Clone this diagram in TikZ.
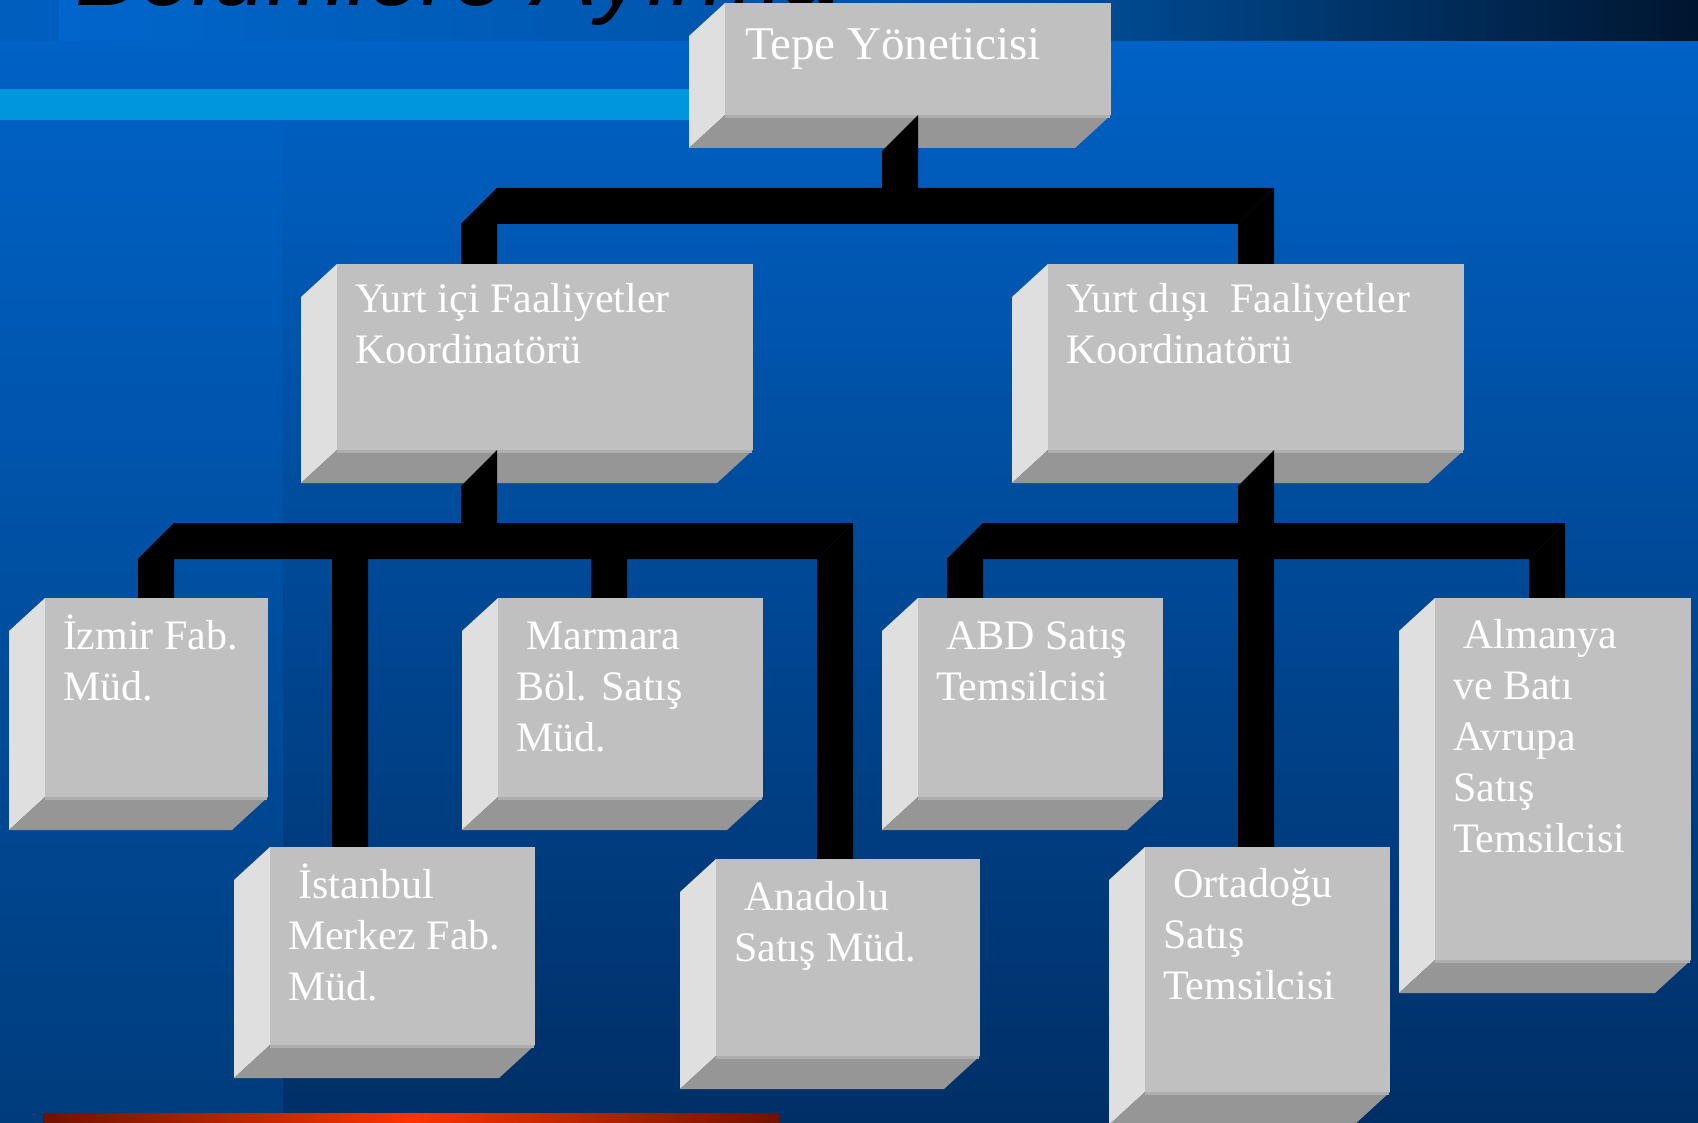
\documentclass[tikz,border=0pt]{standalone}
\usepackage{fontspec}
\setmainfont{Liberation Serif}
\newfontfamily\ttlfont{Liberation Sans}
\usetikzlibrary{calc}

\definecolor{facefront}{HTML}{C0C0C0}
\definecolor{faceside}{HTML}{DFDFDF}
\definecolor{facebottom}{HTML}{969696}
\definecolor{faceline}{HTML}{AEAEAE}
\definecolor{bgtop}{HTML}{0062C6}
\definecolor{bgbottom}{HTML}{002F66}
\definecolor{striptop}{HTML}{0060C2}
\definecolor{stripbottom}{HTML}{003C7C}
\definecolor{cyanbar}{HTML}{0096DE}
\definecolor{redlo}{HTML}{6E1200}
\definecolor{redhi}{HTML}{FF3300}
\definecolor{bandA}{HTML}{0066CC}
\definecolor{bandB}{HTML}{0056AC}
\definecolor{bandC}{HTML}{004A92}
\definecolor{bandD}{HTML}{00152F}
\definecolor{bandE}{HTML}{005EBF}

\pgfdeclarelayer{bg}
\pgfdeclarelayer{bevel}
\pgfdeclarelayer{conn}
\pgfsetlayers{bg,bevel,conn,main}

\newcommand\boxbevel[1]{%
  \fill[faceside] (#1.north west) -- (#1.south west) -- ++(-36,33) -- ($(#1.north west)+(-36,33)$) -- cycle;
  \fill[facebottom] (#1.south west) -- (#1.south east) -- ++(-36,33) -- ($(#1.south west)+(-36,33)$) -- cycle;
  \draw[faceline, line width=3pt] ($(#1.south west)+(0,1.5)$) -- ($(#1.south east)+(-1.5,1.5)$);
}
\newcommand\connseg[2]{%
  \fill[black] (#1) -- (#2) -- ($(#2)+(-36,36)$) -- ($(#1)+(-36,36)$) -- cycle;
}

\begin{document}
\begin{tikzpicture}[x=1pt,y=-1pt,
  box/.style={rectangle, fill=facefront, draw=none, inner sep=0pt, outer sep=0pt, anchor=north west},
  lbl/.style={text=white, inner sep=0pt, outer sep=0pt, anchor=base west, font=\fontsize{42}{51}\selectfont},
  toplbl/.style={lbl, font=\fontsize{47}{56}\selectfont},
  ttl/.style={inner sep=0pt, outer sep=0pt, anchor=base west, font=\ttlfont\itshape\fontsize{96}{110}\selectfont}
]
\useasboundingbox (0,0) rectangle (1698,1123);

% ---------- background ----------
\begin{pgfonlayer}{bg}
  \shade[top color=bgtop, bottom color=bgbottom] (0,41) rectangle (1698,1123);
  \shade[top color=striptop, bottom color=stripbottom] (0,120) rectangle (283,1123);
  \fill[bandE] (0,0) rectangle (59,41);
  \shade[left color=bandA, right color=bandB] (59,0) rectangle (720,41);
  \shade[left color=bandB, right color=bandC] (720,0) rectangle (1111,41);
  \shade[left color=bandC, right color=bandD] (1111,0) rectangle (1698,41);
  \fill[cyanbar] (0,89) rectangle (700,120);
  \shade[left color=redlo, right color=redhi] (43,1113) rectangle (411.5,1123);
  \shade[left color=redhi, right color=redlo] (411,1113) rectangle (779,1123);
  \begin{scope}
    \clip (0,0) rectangle (1698,41);
    \node[ttl, text=black] (title) at (75,6) {Bölümlere Ayırma};
  \end{scope}
\end{pgfonlayer}

% ---------- boxes (front faces) ----------
\node[box, minimum width=386pt, minimum height=112pt] (tepe)  at (725,3) {};
\node[box, minimum width=416pt, minimum height=186pt] (yici)  at (337,264) {};
\node[box, minimum width=416pt, minimum height=186pt] (ydis)  at (1048,264) {};
\node[box, minimum width=223pt, minimum height=199pt] (izmir) at (45,598) {};
\node[box, minimum width=265pt, minimum height=199pt] (mar)   at (498,598) {};
\node[box, minimum width=245pt, minimum height=199pt] (abd)   at (918,598) {};
\node[box, minimum width=256pt, minimum height=362pt] (alm)   at (1435,598) {};
\node[box, minimum width=265pt, minimum height=198pt] (ist)   at (270,847) {};
\node[box, minimum width=264pt, minimum height=197pt] (ana)   at (716,859) {};
\node[box, minimum width=245pt, minimum height=245pt] (ort)   at (1145,847) {};

% ---------- labels ----------
\node[toplbl] (tepe-t) at (745,60) {Tepe Yöneticisi};
\node[lbl] (yici-t) at (355,313) {\begin{tabular}[t]{@{}l@{}}Yurt içi Faaliyetler\\Koordinatörü\end{tabular}};
\node[lbl] (ydis-t) at (1066,313) {\begin{tabular}[t]{@{}l@{}}Yurt dışı\ \ Faaliyetler\\Koordinatörü\end{tabular}};
\node[lbl] (izmir-t) at (63,649) {\begin{tabular}[t]{@{}l@{}}İzmir Fab.\\Müd.\end{tabular}};
\node[lbl] (mar-t) at (516,649) {\begin{tabular}[t]{@{}l@{}}\ Marmara\\Böl. Satış\\Müd.\end{tabular}};
\node[lbl] (abd-t) at (936,649) {\begin{tabular}[t]{@{}l@{}}\ ABD Satış\\Temsilcisi\end{tabular}};
\node[lbl] (alm-t) at (1453,648) {\begin{tabular}[t]{@{}l@{}}\ Almanya\\ve Batı\\Avrupa\\Satış\\Temsilcisi\end{tabular}};
\node[lbl] (ist-t) at (288,898) {\begin{tabular}[t]{@{}l@{}}\ İstanbul\\Merkez Fab.\\Müd.\end{tabular}};
\node[lbl] (ana-t) at (734,910) {\begin{tabular}[t]{@{}l@{}}\ Anadolu\\Satış Müd.\end{tabular}};
\node[lbl] (ort-t) at (1163,897) {\begin{tabular}[t]{@{}l@{}}\ Ortadoğu\\Satış\\Temsilcisi\end{tabular}};

% ---------- bevel faces ----------
\begin{pgfonlayer}{bevel}
  \boxbevel{tepe}
  \boxbevel{yici}
  \boxbevel{ydis}
  \boxbevel{izmir}
  \boxbevel{mar}
  \boxbevel{abd}
  \boxbevel{alm}
  \boxbevel{ist}
  \boxbevel{ana}
  \boxbevel{ort}
\end{pgfonlayer}

% ---------- connector points ----------
\coordinate (aL) at (497,188);
\coordinate (aR) at (1274,188);
\coordinate (aM) at (tepe.south |- aL);
\coordinate (yiciIn) at (aL |- yici.north);
\coordinate (ydisIn) at (aR |- ydis.north);

\coordinate (b0) at (aL |- yici.south);
\coordinate (bL) at (174,523);
\coordinate (bI) at (368,523);
\coordinate (bMa) at (627,523);
\coordinate (bR) at (853,523);
\coordinate (bM) at (b0 |- bL);
\coordinate (izmirIn) at (bL |- izmir.north);
\coordinate (istIn) at (bI |- ist.north);
\coordinate (marIn) at (bMa |- mar.north);
\coordinate (anaIn) at (bR |- ana.north);

\coordinate (c0) at (aR |- ydis.south);
\coordinate (cL) at (983,523);
\coordinate (cR) at (1565,523);
\coordinate (abdIn) at (cL |- abd.north);
\coordinate (ortIn) at (c0 |- ort.north);
\coordinate (almIn) at (cR |- alm.north);

% ---------- connectors ----------
\begin{pgfonlayer}{conn}
  \connseg{tepe.south}{aM}
  \connseg{aL}{aR}
  \connseg{aL}{yiciIn}
  \connseg{aR}{ydisIn}
  \connseg{b0}{bM}
  \connseg{bL}{bR}
  \connseg{bL}{izmirIn}
  \connseg{bI}{istIn}
  \connseg{bMa}{marIn}
  \connseg{bR}{anaIn}
  \connseg{c0}{ortIn}
  \connseg{cL}{cR}
  \connseg{cL}{abdIn}
  \connseg{cR}{almIn}
\end{pgfonlayer}
\end{tikzpicture}
\end{document}
